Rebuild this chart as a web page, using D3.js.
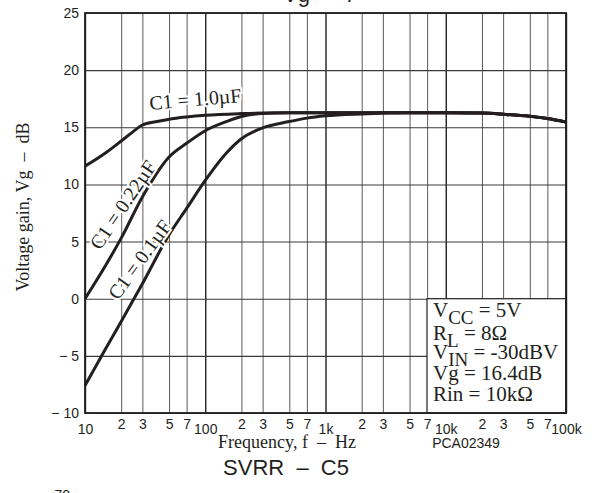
<!DOCTYPE html>
<html>
<head>
<meta charset="utf-8">
<script src="https://cdn.jsdelivr.net/npm/d3@7"></script>
<style>
  body { margin: 0; background: #fff; }
  svg { display: block; }
  text { fill: #231f20; white-space: pre; }
  .sans { font-family: "Liberation Sans", Arial, sans-serif; }
  .serif { font-family: "Liberation Serif", "Times New Roman", serif; }
</style>
</head>
<body>
<svg width="593" height="493"></svg>
<script>
// axis values
const decades = [10, 100, 1000, 10000, 100000];
const decadeLabels = ['10', '100', '1k', '10k', '100k'];
const minorMult = [2, 3, 5, 7];
const yTicks = [-10, -5, 0, 5, 10, 15, 20, 25];

// C1 = 1.0uF
const freqC10 = [10, 15, 20, 25, 30, 40, 50, 70, 100, 200, 300, 500, 1000, 5000, 10000, 20000, 30000, 50000, 70000, 100000];
const gainC10 = [11.6, 12.8, 13.8, 14.6, 15.2, 15.5, 15.7, 15.9, 16.05, 16.2, 16.25, 16.27, 16.28, 16.28, 16.28, 16.24, 16.14, 15.96, 15.76, 15.45];
// C1 = 0.22uF
const freqC022 = [10, 15, 20, 30, 50, 70, 100, 150, 200, 300, 500, 1000, 5000, 10000, 20000, 30000, 50000, 70000, 100000];
const gainC022 = [0.0, 3.0, 5.3, 8.9, 12.4, 13.6, 14.7, 15.5, 15.95, 16.2, 16.27, 16.28, 16.28, 16.28, 16.24, 16.14, 15.96, 15.76, 15.45];
// C1 = 0.1uF
const freqC01 = [10, 15, 20, 30, 50, 70, 100, 150, 200, 300, 500, 700, 1000, 2000, 5000, 10000, 20000, 30000, 50000, 70000, 100000];
const gainC01 = [-7.6, -4.3, -2.0, 1.3, 5.6, 7.9, 10.35, 12.75, 14.0, 14.95, 15.5, 15.8, 16.0, 16.17, 16.27, 16.28, 16.24, 16.14, 15.96, 15.76, 15.45];

const curveNames = ['C1 = 1.0µF', 'C1 = 0.22µF', 'C1 = 0.1µF'];
const condMain = ['V', 'R', 'V', 'Vg = 16.4dB', 'Rin = 10kΩ'];
const condSub = ['CC', 'L', 'IN', '', ''];
const condRest = [' = 5V', ' = 8Ω', ' = -30dBV', '', ''];

const ink = '#231f20';
const x = d3.scaleLog().domain([10, 100000]).range([85, 566]);
const y = d3.scaleLinear().domain([-10, 25]).range([413, 13]);
const svg = d3.select('svg');

const allTicks = decades.flatMap((d, i) => (i < 4 ? [d, ...minorMult.map(m => d * m)] : [d]));

// grid
svg.append('g')
  .attr('transform', 'translate(0,413)')
  .call(d3.axisBottom(x).tickValues(allTicks).tickSize(-400).tickFormat(''))
  .call(g => g.select('.domain').remove())
  .call(g => g.selectAll('line')
    .attr('stroke', d => (decades.includes(d) ? ink : '#5a5a5a'))
    .attr('stroke-width', d => (decades.includes(d) ? 1.4 : 1)));

svg.append('g')
  .attr('transform', 'translate(85,0)')
  .call(d3.axisLeft(y).tickValues(yTicks).tickSize(-481).tickFormat(''))
  .call(g => g.select('.domain').remove())
  .call(g => g.selectAll('line').attr('stroke', '#3a3a3a').attr('stroke-width', 1.1));

// curves
const line = d3.line()
  .x(d => x(d[0]))
  .y(d => y(d[1]))
  .curve(d3.curveMonotoneX);

[[freqC10, gainC10], [freqC022, gainC022], [freqC01, gainC01]].forEach(([f, g]) => {
  svg.append('path')
    .datum(f.map((v, i) => [v, g[i]]))
    .attr('fill', 'none')
    .attr('stroke', ink)
    .attr('stroke-width', 3)
    .attr('d', line);
});

// conditions box
svg.append('rect')
  .attr('x', 427).attr('y', y(0))
  .attr('width', 566 - 427).attr('height', 413 - y(0))
  .attr('fill', '#fff')
  .attr('stroke', ink)
  .attr('stroke-width', 1.2);

const baselines = [317, 340, 359, 380, 401];
condMain.forEach((m, i) => {
  const t = svg.append('text').attr('class', 'serif')
    .attr('x', 433).attr('y', baselines[i])
    .attr('font-size', 21);
  t.append('tspan').text(m);
  if (condSub[i]) {
    t.append('tspan').attr('font-size', 19).attr('dy', 7).text(condSub[i]);
    t.append('tspan').attr('dy', -7).text(condRest[i]);
  }
});

// curve labels
const labelPos = [[150, 110, -5], [100, 251, -56], [118, 301, -54]];
curveNames.forEach((n, i) => {
  const [lx, ly, a] = labelPos[i];
  svg.append('text').attr('class', 'serif')
    .attr('transform', `translate(${lx},${ly}) rotate(${a})`)
    .attr('font-size', 20)
    .attr('stroke', '#fff').attr('stroke-width', 4)
    .attr('paint-order', 'stroke')
    .text(n);
});

// frame
svg.append('rect')
  .attr('x', 85).attr('y', 13).attr('width', 481).attr('height', 400)
  .attr('fill', 'none').attr('stroke', ink).attr('stroke-width', 1.8);

// x tick labels
svg.append('g')
  .attr('class', 'sans')
  .attr('transform', 'translate(0,413)')
  .call(d3.axisBottom(x).tickValues(allTicks).tickSize(0).tickPadding(6)
    .tickFormat(d => {
      const i = decades.indexOf(d);
      return i >= 0 ? decadeLabels[i] : String(Math.round(d / Math.pow(10, Math.floor(Math.log10(d) + 1e-9))));
    }))
  .call(g => g.select('.domain').remove())
  .call(g => g.selectAll('text')
    .attr('font-size', 14).attr('fill', ink)
    .attr('y', d => (decades.includes(d) ? 11 : 6)));

// y tick labels
svg.append('g')
  .attr('class', 'sans')
  .attr('transform', 'translate(85,0)')
  .call(d3.axisLeft(y).tickValues(yTicks).tickSize(0).tickPadding(6)
    .tickFormat(d => (d < 0 ? `− ${-d}` : String(d))))
  .call(g => g.select('.domain').remove())
  .call(g => g.selectAll('text').attr('font-size', 14).attr('fill', ink));

// titles
svg.append('text').attr('class', 'serif')
  .attr('transform', 'translate(29,207) rotate(-90)')
  .attr('text-anchor', 'middle').attr('font-size', 18)
  .text('Voltage gain, Vg  –  dB');

svg.append('text').attr('class', 'serif')
  .attr('x', 287).attr('y', 448).attr('text-anchor', 'middle')
  .attr('font-size', 18)
  .text('Frequency, f  –  Hz');

svg.append('text').attr('class', 'sans')
  .attr('x', 466).attr('y', 448).attr('text-anchor', 'middle')
  .attr('font-size', 14)
  .text('PCA02349');

svg.append('text').attr('class', 'sans')
  .attr('x', 286).attr('y', 475).attr('text-anchor', 'middle')
  .attr('font-size', 22)
  .text('SVRR  –  C5');

svg.append('text').attr('class', 'sans')
  .attr('x', 283).attr('y', 2)
  .attr('font-size', 22)
  .text('Vg  –  f');

svg.append('text').attr('class', 'sans')
  .attr('x', 70).attr('y', 500).attr('text-anchor', 'end')
  .attr('font-size', 14)
  .text('70');
</script>
</body>
</html>
